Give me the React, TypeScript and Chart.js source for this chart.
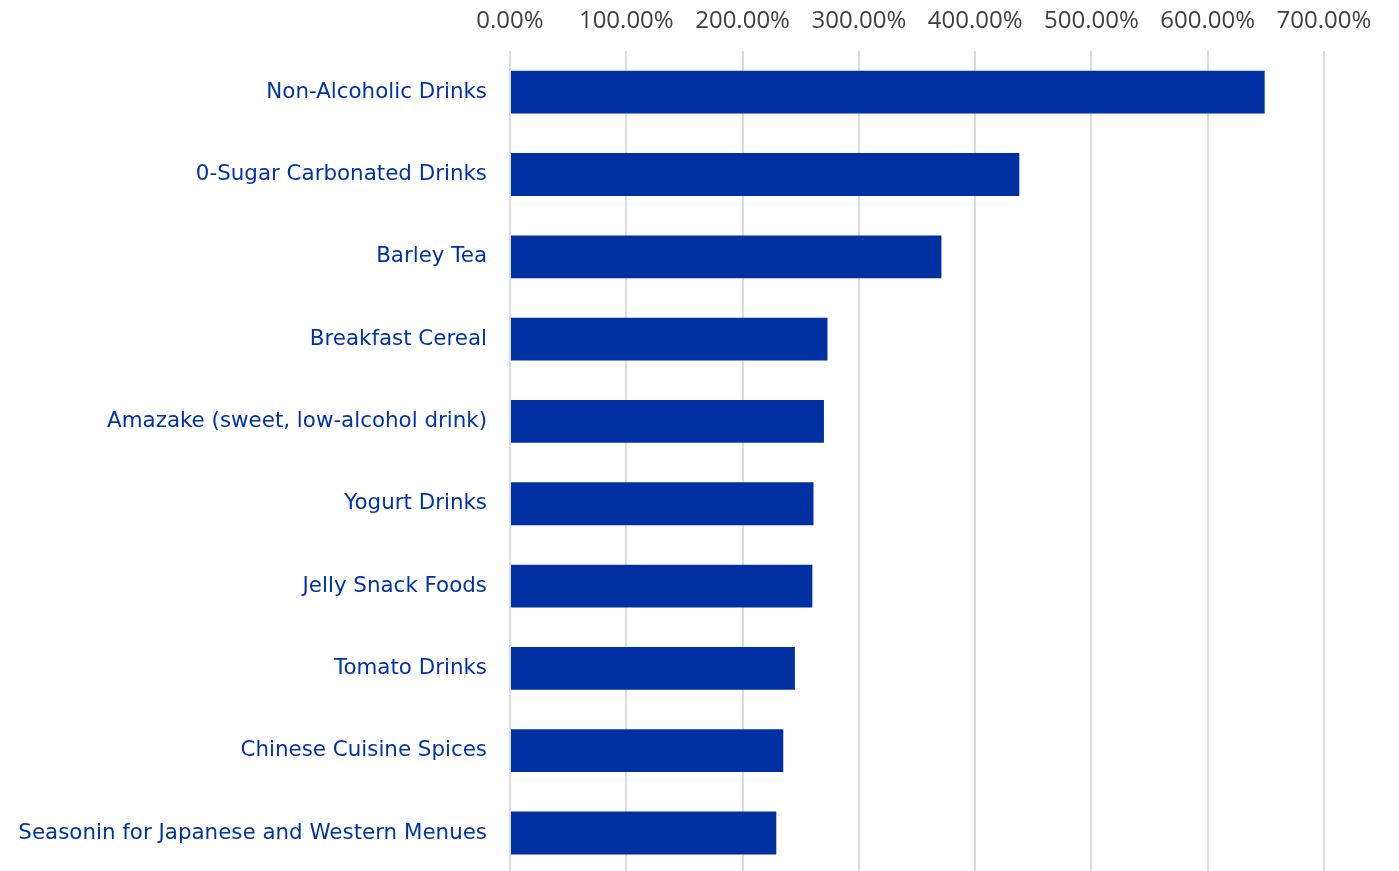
import React, { useEffect, useRef } from "react";
import { Chart, registerables } from "chart.js";

Chart.register(...registerables);

const categories = [
  "Non-Alcoholic Drinks",
  "0-Sugar Carbonated Drinks",
  "Barley Tea",
  "Breakfast Cereal",
  "Amazake (sweet, low-alcohol drink)",
  "Yogurt Drinks",
  "Jelly Snack Foods",
  "Tomato Drinks",
  "Chinese Cuisine Spices",
  "Seasonin for Japanese and Western Menues",
];

const growthPercent = [649, 438, 371, 273, 270, 261, 260, 245, 235, 229];

const xMin = 0;
const xMax = 700;
const xStep = 100;

export default function App() {
  const ref = useRef<HTMLCanvasElement | null>(null);

  useEffect(() => {
    if (!ref.current) return;
    const chart = new Chart(ref.current, {
      type: "bar",
      data: {
        labels: categories,
        datasets: [
          {
            data: growthPercent,
            backgroundColor: "#0030A1",
            borderWidth: 0,
            categoryPercentage: 1,
            barPercentage: 0.52,
          },
        ],
      },
      options: {
        indexAxis: "y",
        animation: false,
        responsive: false,
        maintainAspectRatio: false,
        layout: { padding: { left: 0, right: 75, top: 0, bottom: 0 } },
        plugins: {
          legend: { display: false },
          tooltip: { enabled: false },
        },
        scales: {
          x: {
            position: "top",
            min: xMin,
            max: xMax,
            border: { display: false },
            grid: { color: "#dcdcdc", lineWidth: 2, drawTicks: false },
            ticks: {
              stepSize: xStep,
              padding: 15,
              color: "#404040",
              font: { family: "'Open Sans'", size: 24 },
              maxRotation: 0,
              callback: (v: any) => Number(v).toFixed(2) + "%",
            },
            afterFit: (s: any) => {
              s.height = 51;
            },
          },
          y: {
            border: { display: false },
            grid: { display: false, drawTicks: false },
            ticks: {
              padding: 23,
              color: "#0033A8",
              font: { family: "'DejaVu Sans'", size: 21.4 },
            },
            afterFit: (s: any) => {
              s.width = 510;
            },
          },
        },
      },
    });
    return () => chart.destroy();
  }, []);

  return (
    <div style={{ position: "absolute", left: 0, top: 0, width: 1399, height: 910, background: "#fff" }}>
      <canvas ref={ref} width={1399} height={910} style={{ display: "block" }} />
    </div>
  );
}
